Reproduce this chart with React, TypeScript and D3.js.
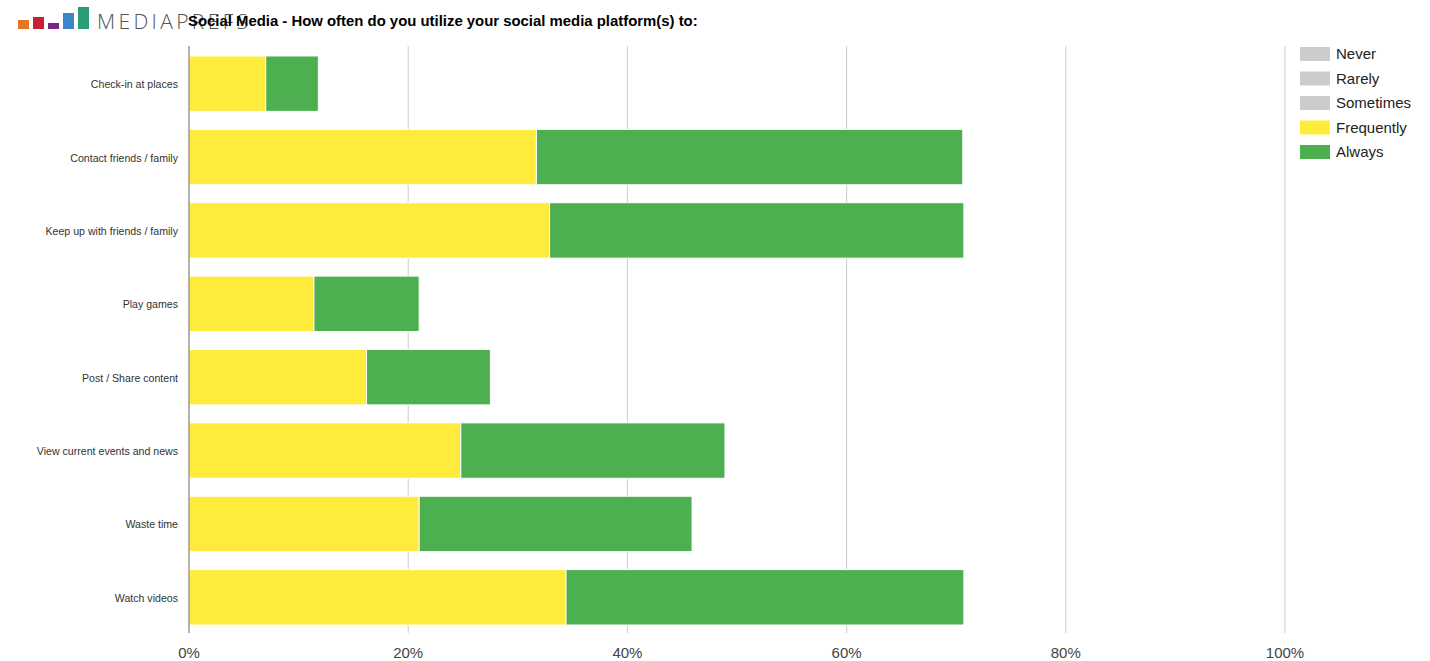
import React from "react";
import * as d3 from "d3";

const categories = [
  "Check-in at places",
  "Contact friends / family",
  "Keep up with friends / family",
  "Play games",
  "Post / Share content",
  "View current events and news",
  "Waste time",
  "Watch videos",
];
const seriesNames = ["Never", "Rarely", "Sometimes", "Frequently", "Always"];
const never = [0, 0, 0, 0, 0, 0, 0, 0];
const rarely = [0, 0, 0, 0, 0, 0, 0, 0];
const sometimes = [0, 0, 0, 0, 0, 0, 0, 0];
const frequently = [7.0, 31.7, 32.9, 11.4, 16.2, 24.8, 21.0, 34.4];
const always = [4.8, 38.9, 37.8, 9.6, 11.3, 24.1, 24.9, 36.3];
const seriesColors = ["#cccccc", "#cccccc", "#cccccc", "#ffeb3b", "#4caf50"];
const xTicks = [0, 20, 40, 60, 80, 100];

const W = 1430;
const H = 661;

export default function App() {
  const left = 189;
  const right = 1285;
  const top = 47;
  const bottom = 634;
  const x = d3.scaleLinear().domain([0, 100]).range([left, right]);
  const y = d3.scaleBand().domain(categories).range([top, bottom]).paddingInner(0.245).paddingOuter(0.1225);
  const rows = categories.map((c, i) => ({
    cat: c,
    Never: never[i],
    Rarely: rarely[i],
    Sometimes: sometimes[i],
    Frequently: frequently[i],
    Always: always[i],
  }));
  const stack = d3.stack<any>().keys(seriesNames)(rows);
  const font = "Arial, 'Liberation Sans', Helvetica, sans-serif";
  const logo = [
    { x: 18, y: 20, w: 11, h: 9, c: "#e8742a" },
    { x: 33, y: 17, w: 11, h: 12, c: "#c62032" },
    { x: 48, y: 23, w: 11, h: 6, c: "#7b2386" },
    { x: 63, y: 13, w: 11, h: 16, c: "#3b86cc" },
    { x: 78, y: 7, w: 11, h: 22, c: "#2a9d74" },
  ];
  return (
    <svg width={W} height={H} style={{ position: "absolute", left: 0, top: 0, background: "#fff" }} fontFamily={font}>
      {logo.map((b, i) => (
        <rect key={i} x={b.x} y={b.y} width={b.w} height={b.h} fill={b.c} />
      ))}
      <text x={97} y={28.5} fontSize={21} fill="#555" fontWeight={300} fontFamily="'Open Sans', 'Liberation Sans', sans-serif" textLength={151} lengthAdjust="spacing">
        MEDIAPREFS
      </text>
      <text x={188} y={26} fontSize={14.9} fontWeight="bold" fill="#000">
        Social Media - How often do you utilize your social media platform(s) to:
      </text>
      {xTicks.slice(1).map((t) => (
        <line key={t} x1={x(t)} x2={x(t)} y1={top - 1} y2={bottom - 1} stroke="#cccccc" strokeWidth={1} />
      ))}
      {stack.map((s, si) =>
        s.map((d, i) =>
          d[1] - d[0] > 0 ? (
            <rect
              key={`${si}-${i}`}
              x={x(d[0])}
              y={y(categories[i])}
              width={x(d[1]) - x(d[0])}
              height={y.bandwidth()}
              fill={seriesColors[si]}
              stroke="#fff"
              strokeWidth={1}
            />
          ) : null
        )
      )}
      <line x1={left} x2={left} y1={top - 1} y2={bottom - 1} stroke="#999" strokeWidth={1.5} />
      {categories.map((c) => (
        <text key={c} x={178} y={y(c)! + y.bandwidth() / 2 + 4.5} fontSize={10.6} fill="#333" textAnchor="end">
          {c}
        </text>
      ))}
      {xTicks.map((t) => (
        <text key={t} x={x(t)} y={658} fontSize={15} fill="#444" textAnchor="middle">
          {t}%
        </text>
      ))}
      {seriesNames.map((n, i) => (
        <g key={n} transform={`translate(1300, ${47 + i * 24.5})`}>
          <rect width={30} height={14} fill={seriesColors[i]} />
          <text x={36} y={12} fontSize={15} fill="#222">
            {n}
          </text>
        </g>
      ))}
    </svg>
  );
}
